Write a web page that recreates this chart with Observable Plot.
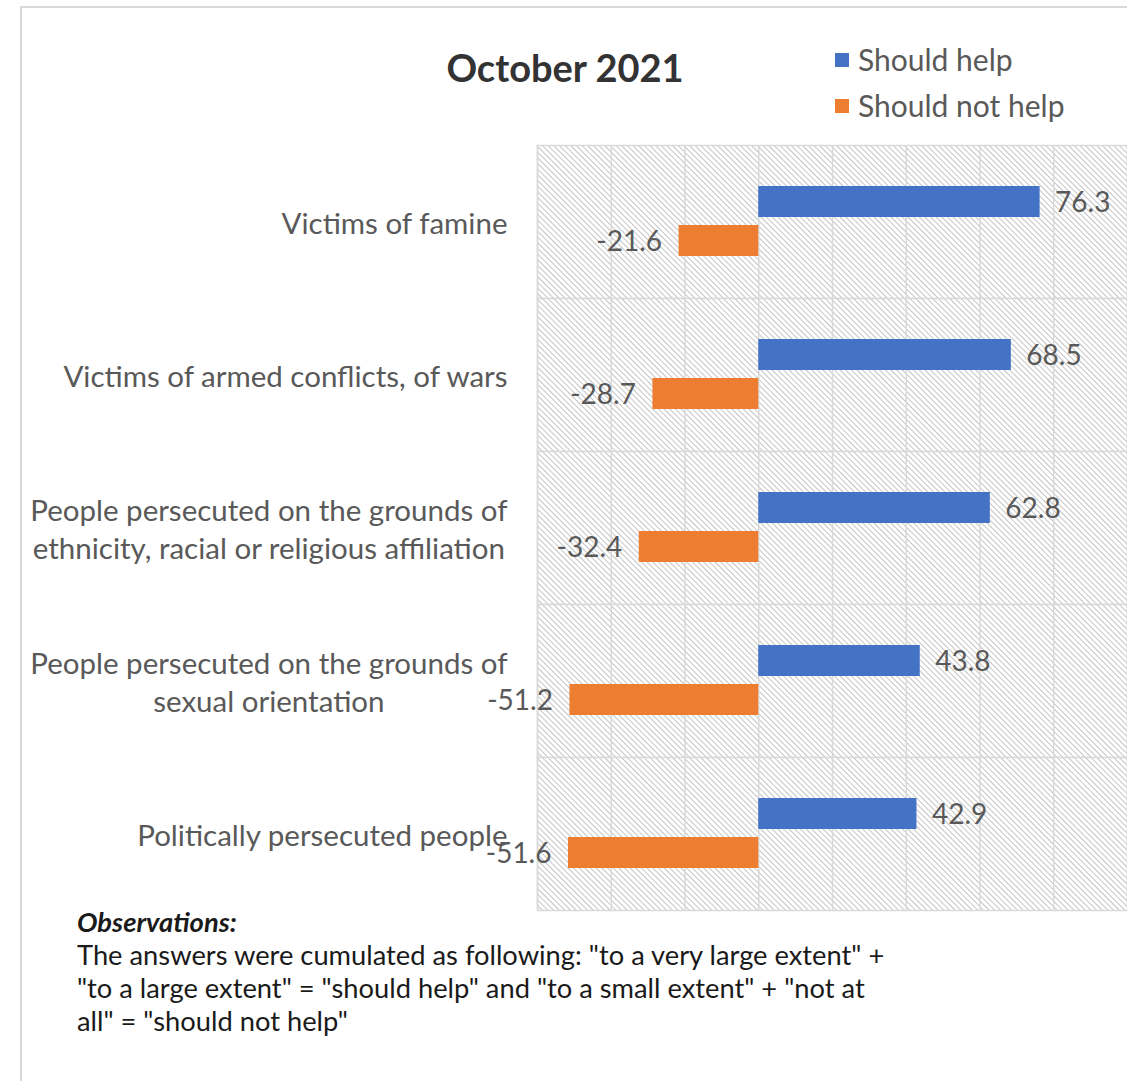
<!DOCTYPE html>
<html>
<head>
<meta charset="utf-8">
<script src="https://cdn.jsdelivr.net/npm/d3@7"></script>
<script src="https://cdn.jsdelivr.net/npm/@observablehq/plot@0.6"></script>
<style>
  html, body { margin: 0; padding: 0; background: #fff; overflow: hidden; }
  body { width: 1127px; height: 1081px; position: relative; font-family: Lato, "Open Sans", sans-serif; }
  #frame { position: absolute; left: 20px; top: 6px; width: 1200px; height: 1200px;
           border-left: 2px solid #d9d9d9; border-top: 2px solid #d9d9d9; box-sizing: border-box; }
  #title { position: absolute; left: 0; width: 1130px; top: 47px; text-align: center;
           font-size: 38px; line-height: 40px; font-weight: 700; color: #333; }
  .leg { position: absolute; left: 835px; height: 30px; }
  .leg .sw { position: absolute; left: 0; width: 14px; height: 14px; }
  .leg .lab { position: absolute; left: 23px; top: 0; font-size: 30px; line-height: 30px; color: #595959; white-space: nowrap; }
  #chart { position: absolute; left: 0; top: 130px; }
  #obs { position: absolute; left: 77px; top: 905px; font-size: 27.3px; line-height: 33px; color: #1a1a1a; white-space: nowrap; }
  #obs b { font-style: italic; }
</style>
</head>
<body>
<div id="frame"></div>
<div id="title"></div>
<div id="legend"></div>
<div id="chart"></div>
<div id="obs"></div>
<script>
// ---- data ----
const title = "October 2021";
const categories = [
  "Victims of famine",
  "Victims of armed conflicts, of wars",
  "People persecuted on the grounds of\nethnicity, racial or religious affiliation",
  "People persecuted on the grounds of\nsexual orientation",
  "Politically persecuted people"
];
const seriesNames = ["Should help", "Should not help"];
const shouldHelp = [76.3, 68.5, 62.8, 43.8, 42.9];
const shouldNotHelp = [-21.6, -28.7, -32.4, -51.2, -51.6];
const seriesColors = ["#4472c4", "#ed7d31"];
const xTicks = [-60, -40, -20, 0, 20, 40, 60, 80, 100];
const obsTitle = "Observations:";
const obsLines = [
  "The answers were cumulated as following: \"to a very large extent\" +",
  "\"to a large extent\" = \"should help\" and \"to a small extent\" + \"not at",
  "all\" = \"should not help\""
];

// ---- table ----
const rows = [];
categories.forEach((c, i) => {
  rows.push({category: c, series: seriesNames[0], value: shouldHelp[i]});
  rows.push({category: c, series: seriesNames[1], value: shouldNotHelp[i]});
});

// ---- HTML texts ----
document.getElementById("title").textContent = title;
const legend = document.getElementById("legend");
seriesNames.forEach((s, i) => {
  const item = document.createElement("div");
  item.className = "leg";
  item.style.top = (44 + i * 46) + "px";
  const sw = document.createElement("div");
  sw.className = "sw"; sw.style.background = seriesColors[i]; sw.style.top = "9px";
  const lab = document.createElement("div");
  lab.className = "lab"; lab.textContent = s;
  item.appendChild(sw); item.appendChild(lab);
  legend.appendChild(item);
});
const obs = document.getElementById("obs");
const bt = document.createElement("b"); bt.textContent = obsTitle; obs.appendChild(bt);
obsLines.forEach(l => { obs.appendChild(document.createElement("br")); obs.appendChild(document.createTextNode(l)); });

// ---- chart ----
const textColor = "#595959";
const grid = "#d9d9d9";
const chart = Plot.plot({
  width: 1127,
  height: 790,
  marginLeft: 537,
  marginRight: 0,
  marginTop: 15,
  marginBottom: 10,
  style: {fontFamily: "Lato, 'Open Sans', sans-serif", background: "transparent"},
  facet: {data: rows, y: "category", marginTop: 0, marginBottom: 0, marginLeft: 0, marginRight: 0},
  fy: {domain: categories, padding: 0, axis: null},
  x: {domain: [-60, 100], axis: null},
  y: {domain: seriesNames, paddingInner: 0.205, paddingOuter: 1.064, axis: null},
  color: {domain: seriesNames, range: seriesColors},
  marks: [
    Plot.frame({fill: "url(#hatch)", stroke: grid, strokeWidth: 1.5}),
    Plot.ruleX(xTicks, {stroke: grid, strokeWidth: 1.5}),
    Plot.barX(rows, {x: "value", y: "series", fill: "series"}),
    Plot.text(rows, {filter: d => d.value >= 0, x: "value", y: "series", text: d => d.value.toFixed(1),
      textAnchor: "start", dx: 15, dy: 1, fill: textColor, fontSize: 28}),
    Plot.text(rows, {filter: d => d.value < 0, x: "value", y: "series", text: d => d.value.toFixed(1),
      textAnchor: "end", dx: -17, dy: 1, fill: textColor, fontSize: 28}),
    Plot.text(rows, {filter: d => d.series === seriesNames[0], text: "category", frameAnchor: "left",
      textAnchor: "end", dx: -30, fill: textColor, fontSize: 29.5, lineHeight: 1.29})
  ]
});
document.getElementById("chart").appendChild(chart);

// hatch pattern definition
const ns = "http://www.w3.org/2000/svg";
const defs = document.createElementNS(ns, "defs");
defs.innerHTML = '<pattern id="hatch" patternUnits="userSpaceOnUse" width="4" height="4" patternTransform="rotate(-45)">' +
  '<rect width="4" height="4" fill="#ffffff"/><line x1="0.5" y1="0" x2="0.5" y2="4" stroke="#c4c4c4" stroke-width="1"/></pattern>';
chart.insertBefore(defs, chart.firstChild);

// center lines of multi-line category labels within their right-aligned block
chart.querySelectorAll("text").forEach(t => {
  const spans = t.querySelectorAll("tspan");
  if (spans.length < 2) return;
  let maxW = 0;
  spans.forEach(s => { maxW = Math.max(maxW, s.getComputedTextLength()); });
  t.setAttribute("text-anchor", "middle");
  t.style.textAnchor = "middle";
  spans.forEach(s => { s.setAttribute("x", -maxW / 2); s.setAttribute("text-anchor", "middle"); });
});
</script>
</body>
</html>
